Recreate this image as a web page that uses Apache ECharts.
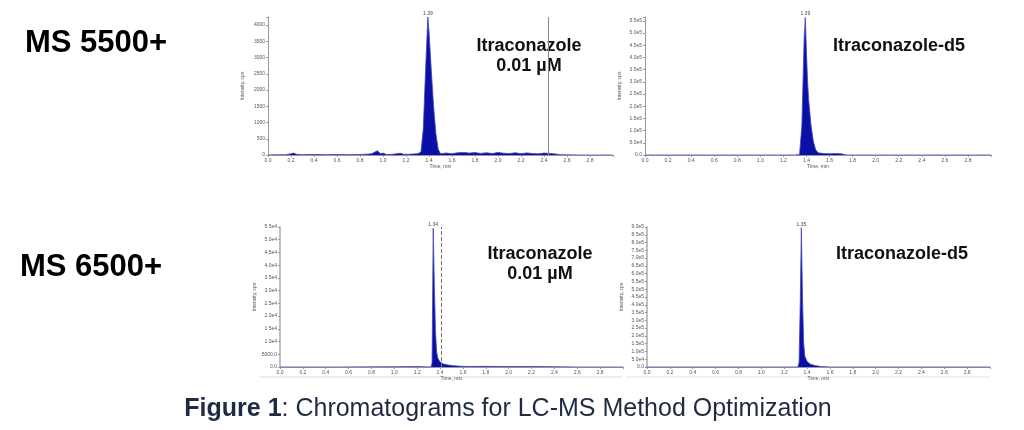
<!DOCTYPE html>
<html>
<head>
<meta charset="utf-8">
<title>Chromatograms for LC-MS Method Optimization</title>
<script src="https://cdn.jsdelivr.net/npm/echarts@6/dist/echarts.min.js"></script>
<style>
html, body { margin: 0; padding: 0; background: #fff; }
#main { width: 1024px; height: 430px; }
</style>
</head>
<body>
<div id="main"></div>
<script>
// retention time (min) / intensity (cps)
var t1 = [0, 0.05, 0.10, 0.15, 0.20, 0.22, 0.25, 0.30, 0.35, 0.40, 0.45, 0.50, 0.55, 0.60, 0.65, 0.70, 0.75, 0.80, 0.85, 0.90, 0.95, 0.98, 1.00, 1.03, 1.08, 1.12, 1.15, 1.18, 1.22, 1.26, 1.30, 1.33, 1.35, 1.37, 1.39, 1.40, 1.42, 1.44, 1.46, 1.48, 1.50, 1.55, 1.60, 1.65, 1.70, 1.75, 1.80, 1.85, 1.90, 1.95, 2.00, 2.05, 2.10, 2.15, 2.20, 2.25, 2.30, 2.35, 2.40, 2.45, 2.50, 2.55, 2.60, 2.70, 2.80, 3.00];
var i1 = [0, 5, 8, 10, 35, 60, 20, 10, 15, 12, 15, 10, 18, 12, 15, 10, 12, 15, 25, 35, 130, 35, 60, 15, 20, 40, 55, 25, 20, 30, 40, 90, 800, 2600, 4250, 3800, 2600, 1500, 650, 180, 40, 60, 40, 70, 80, 60, 75, 50, 70, 45, 80, 55, 45, 70, 40, 65, 45, 35, 60, 50, 30, 10, 5, 0, 0, 0];

var t2 = [0, 0.5, 1.0, 1.30, 1.34, 1.36, 1.37, 1.38, 1.39, 1.40, 1.41, 1.42, 1.44, 1.46, 1.48, 1.50, 1.55, 1.60, 1.65, 1.70, 1.72, 1.75, 2.0, 2.5, 3.0];
var i2 = [0, 0, 0, 0, 2000, 120000, 300000, 480000, 564000, 420000, 300000, 220000, 120000, 55000, 22000, 9000, 6000, 5000, 6000, 5000, 3000, 0, 0, 0, 0];

var t3 = [0, 0.5, 1.0, 1.2, 1.32, 1.33, 1.34, 1.35, 1.36, 1.37, 1.38, 1.40, 1.43, 1.47, 1.52, 1.58, 1.65, 1.8, 2.0, 2.2, 2.4, 2.6, 3.0];
var i3 = [0, 0, 100, 150, 0, 1500, 54500, 32000, 14000, 6000, 3500, 2000, 1200, 800, 500, 300, 200, 250, 150, 200, 100, 0, 0];

var t4 = [0, 0.5, 1.0, 1.32, 1.33, 1.34, 1.35, 1.36, 1.37, 1.38, 1.40, 1.43, 1.47, 1.52, 1.6, 2.0, 3.0];
var i4 = [0, 0, 0, 0, 30000, 400000, 895000, 450000, 160000, 70000, 35000, 18000, 9000, 3000, 0, 0, 0];

var yMax = [4250, 566000, 55000, 900000];
var yStep = [500, 50000, 5000, 50000];
var markTimes = [2.44, null, 1.41, null];

var titles = [
  ["Itraconazole", "0.01 µM"],
  ["Itraconazole-d5"],
  ["Itraconazole", "0.01 µM"],
  ["Itraconazole-d5"]
];
var rowNames = ["MS 5500+", "MS 6500+"];
var caption = "Figure 1";
var captionRest = ": Chromatograms for LC-MS Method Optimization";

var myChart = echarts.init(document.getElementById("main"));

var grids = [
  { left: 268, top: 17, width: 345, height: 138 },
  { left: 645, top: 17, width: 346, height: 138 },
  { left: 280, top: 227, width: 343, height: 140 },
  { left: 647, top: 227, width: 343, height: 140 }
];
var titlePos = [[529, 46], [899, 46], [540, 254], [902, 254]];

function expFmt(v) {
  if (v === 0) return "0.0";
  if (v < 10000) return v.toFixed(1);
  return v.toExponential(1).replace("e+", "e");
}
var yFmt = [
  function (v) { return v % 500 === 0 ? String(v) : ""; },
  function (v) { return v % 50000 === 0 ? expFmt(v) : ""; },
  expFmt,
  expFmt
];

function pairs(t, v) {
  var peak = v.indexOf(Math.max.apply(null, v));
  return t.map(function (x, i) {
    var item = { value: [x, v[i]] };
    if (i === peak) {
      item.label = {
        show: true, position: "top", distance: 1,
        fontSize: 5, color: "#444", formatter: x.toFixed(2)
      };
    }
    return item;
  });
}

var traces = [[t1, i1], [t2, i2], [t3, i3], [t4, i4]];
var tiny = { fontSize: 5, color: "#555", fontFamily: "Liberation Sans" };

var xAxes = [], yAxes = [], series = [];
grids.forEach(function (g, k) {
  g.outerBoundsMode = "none";
  xAxes.push({
    type: "value", gridIndex: k, min: 0, max: 3.0, interval: 0.2,
    name: "Time, min", nameLocation: "middle", nameGap: 8,
    nameTextStyle: tiny,
    axisLine: { lineStyle: { color: "#999", width: 1 } },
    axisTick: { length: 2, lineStyle: { color: "#999" } },
    splitLine: { show: false },
    axisLabel: {
      fontSize: 5, color: "#555", margin: 3,
      formatter: function (v) { return v <= 2.81 ? v.toFixed(1) : ""; }
    }
  });
  yAxes.push({
    type: "value", gridIndex: k, min: 0, max: yMax[k], interval: yStep[k],
    name: "Intensity, cps", nameLocation: "middle", nameRotate: 90,
    nameGap: 23, nameTextStyle: tiny,
    axisLine: { show: true, lineStyle: { color: k >= 2 ? "#aaa" : "#999", width: k >= 2 ? 1.5 : 1 } },
    axisTick: { show: true, length: 2, lineStyle: { color: "#999" } },
    splitLine: { show: false },
    axisLabel: { fontSize: 5, color: "#555", margin: 3, formatter: yFmt[k] }
  });
  var s = {
    type: "line", xAxisIndex: k, yAxisIndex: k,
    data: pairs(traces[k][0], traces[k][1]),
    showSymbol: true, showAllSymbol: true, symbolSize: 0,
    itemStyle: { color: "#1418a8" },
    lineStyle: { color: "#4446b8", width: 0.8 },
    areaStyle: { color: "#0a10a6", opacity: 1 },
    animation: false
  };
  if (markTimes[k] !== null) {
    s.markLine = {
      silent: true, symbol: "none", label: { show: false },
      lineStyle: { color: k === 0 ? "#888" : "#777", width: 1, type: k === 0 ? "solid" : "dashed" },
      data: [{ xAxis: markTimes[k] }]
    };
  }
  series.push(s);
});

var graphics = [];
titles.forEach(function (lines, k) {
  lines.forEach(function (txt, j) {
    graphics.push({
      type: "text", x: titlePos[k][0], y: titlePos[k][1] + j * 20.5,
      style: {
        text: txt, fill: "#111", font: "bold 18px 'Liberation Sans', Arial, sans-serif",
        textAlign: "center", textVerticalAlign: "middle"
      }
    });
  });
});
graphics.push(
  { type: "text", x: 25, y: 43, style: { text: rowNames[0], fill: "#000", font: "bold 31px 'Liberation Sans', Arial, sans-serif", textVerticalAlign: "middle" } },
  { type: "text", x: 20, y: 267, style: { text: rowNames[1], fill: "#000", font: "bold 31px 'Liberation Sans', Arial, sans-serif", textVerticalAlign: "middle" } },
  {
    type: "text", x: 508, y: 409,
    style: {
      text: "{b|" + caption + "}" + captionRest,
      fill: "#1f2a44", font: "25px 'Liberation Sans', Arial, sans-serif",
      textAlign: "center", textVerticalAlign: "middle",
      rich: { b: { fontWeight: "bold", fontSize: 25, fontFamily: "Liberation Sans", fill: "#1f2a44" } }
    }
  },
  { type: "line", shape: { x1: 260, y1: 377, x2: 622, y2: 377 }, style: { stroke: "#ddd", lineWidth: 1 } },
  { type: "line", shape: { x1: 626, y1: 377, x2: 990, y2: 377 }, style: { stroke: "#e4e4e4", lineWidth: 1 } }
);

var option = {
  backgroundColor: "#fff",
  animation: false,
  grid: grids,
  xAxis: xAxes,
  yAxis: yAxes,
  series: series,
  graphic: graphics
};
myChart.setOption(option);
</script>
</body>
</html>
